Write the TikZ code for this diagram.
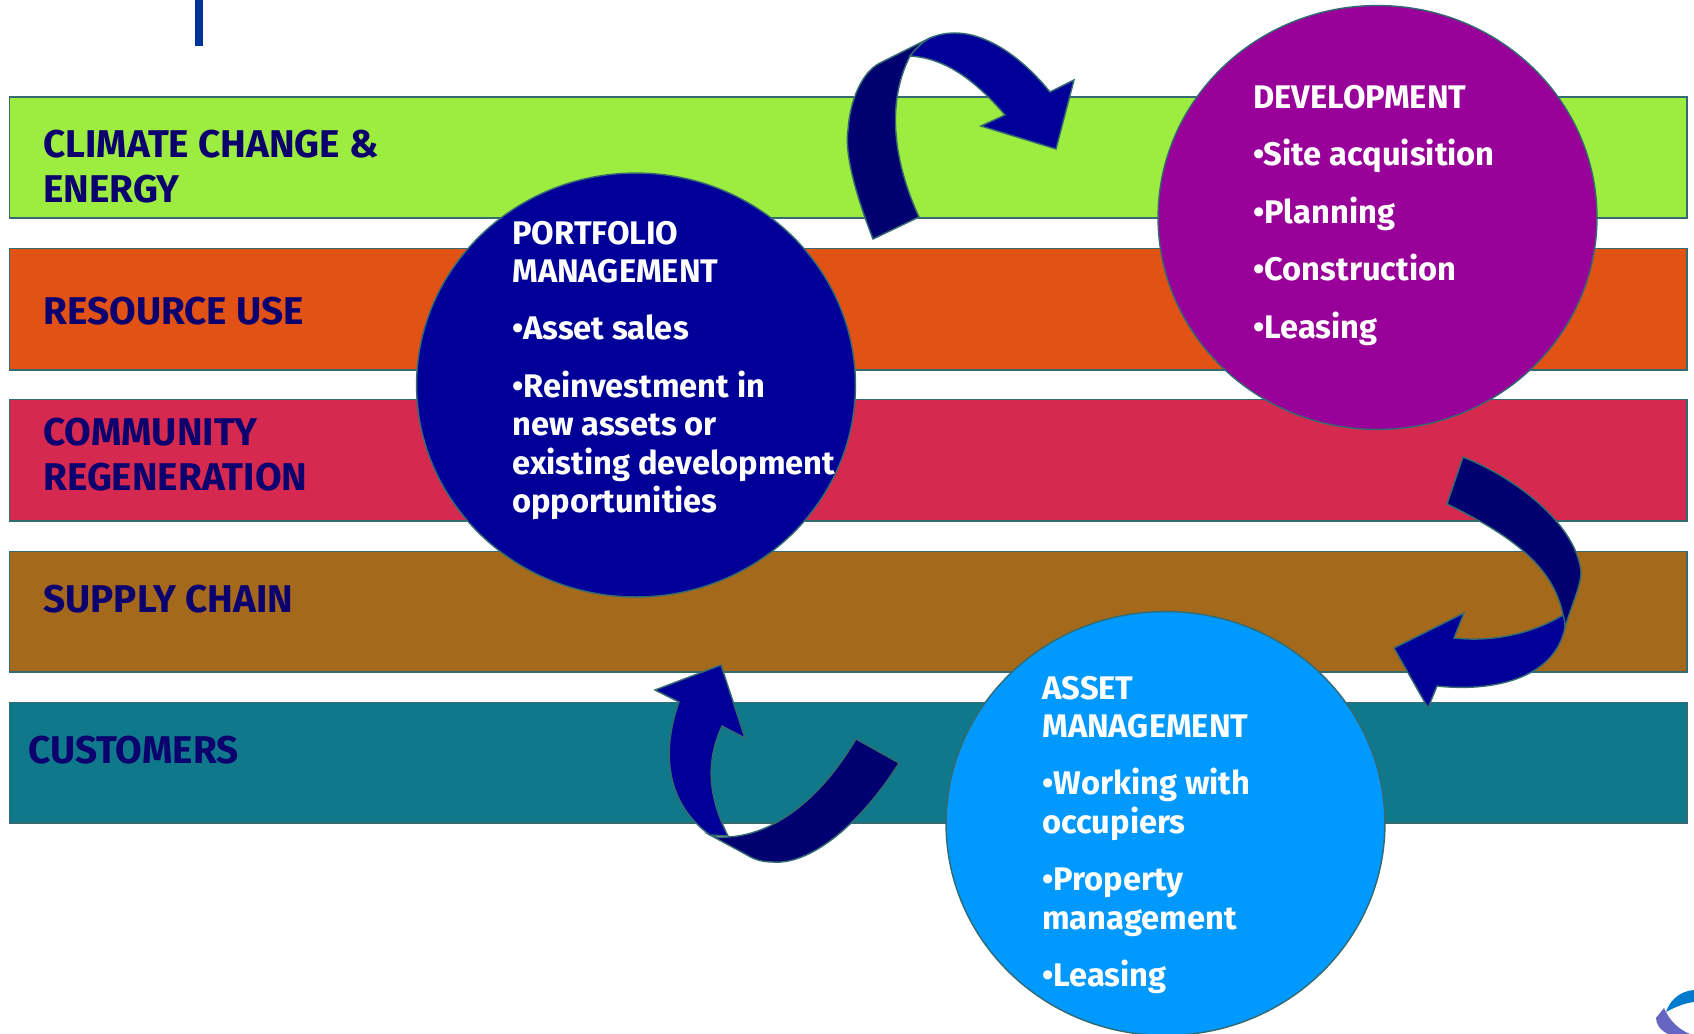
\documentclass[tikz,border=0pt]{standalone}
\usepackage{fontspec}
\setmainfont{Fira Sans}
\usetikzlibrary{shapes.geometric}
\definecolor{edgeteal}{HTML}{336B70}
\definecolor{labelblue}{HTML}{0B006E}
\definecolor{climategreen}{HTML}{9DEC40}
\definecolor{resourceorange}{HTML}{E25215}
\definecolor{communityred}{HTML}{D62950}
\definecolor{supplybrown}{HTML}{A5691B}
\definecolor{customerteal}{HTML}{0F788A}
\definecolor{portfolioblue}{HTML}{000099}
\definecolor{developpurple}{HTML}{990099}
\definecolor{assetcyan}{HTML}{0099FF}
\definecolor{arrowdark}{HTML}{000070}
\definecolor{topblue}{HTML}{003399}
\tikzset{
  bar/.style={draw=edgeteal,line width=1.1pt,anchor=north west,minimum width=33.55cm,inner sep=0pt},
  stage/.style={ellipse,draw=edgeteal,line width=0.8pt,minimum width=8.78cm,minimum height=8.48cm,inner sep=0pt},
  barlabel/.style={anchor=north west,align=left,inner sep=0pt,text=labelblue,font=\fontsize{22}{25.7}\selectfont\bfseries},
  stagetext/.style={anchor=north west,align=left,inner sep=0pt,text=white,font=\fontsize{18.6}{21.8}\selectfont\bfseries},
  headpart/.style={draw=edgeteal,line width=0.8pt,fill=portfolioblue,line join=miter},
  tailpart/.style={draw=edgeteal,line width=0.8pt,fill=arrowdark,line join=miter}
}
\begin{document}
\begin{tikzpicture}[x=0.02cm,y=-0.02cm]
\useasboundingbox (0,0) rectangle (1694,1034);
\fill[white] (0,0) rectangle (1694,1034);
\fill[topblue] (195,0) rectangle (203,46);

\node [bar,fill=climategreen,minimum height=2.42cm] (climate) at (8.5,96.5) {};
\node [bar,fill=resourceorange,minimum height=2.44cm] (resource) at (8.5,247.5) {};
\node [bar,fill=communityred,minimum height=2.44cm] (community) at (8.5,398.5) {};
\node [bar,fill=supplybrown,minimum height=2.42cm] (supply) at (8.5,550.5) {};
\node [bar,fill=customerteal,minimum height=2.42cm] (customers) at (8.5,701.5) {};

\node [barlabel] (climatelabel) at (43,130) {CLIMATE CHANGE \&\\ENERGY};
\node [barlabel] (resourcelabel) at (43,297) {RESOURCE USE};
\node [barlabel] (communitylabel) at (43,418) {COMMUNITY\\REGENERATION};
\node [barlabel] (supplylabel) at (43,585) {SUPPLY CHAIN};
\node [barlabel] (customerslabel) at (28,736) {CUSTOMERS};

\node [stage,fill=portfolioblue] (portfolio) at (636,385) {};
\node [stage,fill=developpurple] (development) at (1377.5,217.5) {};
\node [stage,fill=assetcyan] (asset) at (1165.5,823.5) {};

\node [stagetext] (portfoliotext) at (512,220.5) {PORTFOLIO\\MANAGEMENT\\[11pt]•Asset sales\\[11pt]•Reinvestment in\\new assets or\\existing development\\opportunities};
\node [stagetext] (developmenttext) at (1253,84.5) {DEVELOPMENT\\[11pt]•Site acquisition\\[11pt]•Planning\\[11pt]•Construction\\[11pt]•Leasing};
\node [stagetext] (assettext) at (1042,675.5) {ASSET\\MANAGEMENT\\[11pt]•Working with\\occupiers\\[11pt]•Property\\management\\[11pt]•Leasing};

\draw[tailpart] (873,239) .. controls (852,185) and (845,150) .. (848,130) .. controls (850,100) and (862,72) .. (880,63) -- (930,38) .. controls (922,42) and (915,50) .. (910,56) .. controls (885,105) and (895,165) .. (919,217) -- cycle;
\draw[headpart] (910,56) .. controls (945,58) and (975,80) .. (1005,115) -- (981,126) -- (1056,149) -- (1074,80) -- (1050,92) .. controls (1020,55) and (985,33) .. (955,33) .. controls (945,33) and (937,35) .. (930,38) .. controls (922,42) and (915,50) .. (910,56) -- cycle;

\draw[tailpart] (1463,457) .. controls (1525,482) and (1578,530) .. (1581,573) .. controls (1581,585) and (1570,610) .. (1565,627) -- (1563,615) .. controls (1553,565) and (1510,535) .. (1447,504) -- cycle;
\draw[headpart] (1563,615) .. controls (1530,635) and (1490,642) .. (1454,638) -- (1464,613) -- (1394,648) -- (1428,708) -- (1437,686) .. controls (1490,692) and (1555,680) .. (1565,627) .. controls (1565,622) and (1564,618) .. (1563,615) -- cycle;

\draw[tailpart] (856,739) .. controls (820,800) and (770,840) .. (717,837) -- (710,835) -- (747,855) .. controls (755,860) and (763,862) .. (773,862) .. controls (810,865) and (860,825) .. (899,763) -- cycle;
\draw[headpart] (728,836) .. controls (710,800) and (704,765) .. (722,726) -- (745,738) -- (721,665) -- (655,690) -- (679,702) .. controls (660,755) and (668,805) .. (710,835) -- cycle;

\fill[assetcyan!80!black] (1666,1012) .. controls (1670,1000) and (1680,991) .. (1694,990) -- (1694,1002) .. controls (1685,1003) and (1675,1007) .. (1666,1012) -- cycle;
\fill[portfolioblue!60!white] (1656,1018) .. controls (1656,1024) and (1660,1030) .. (1668,1034) -- (1690,1034) .. controls (1680,1030) and (1670,1022) .. (1664,1008) -- cycle;
\end{tikzpicture}
\end{document}
